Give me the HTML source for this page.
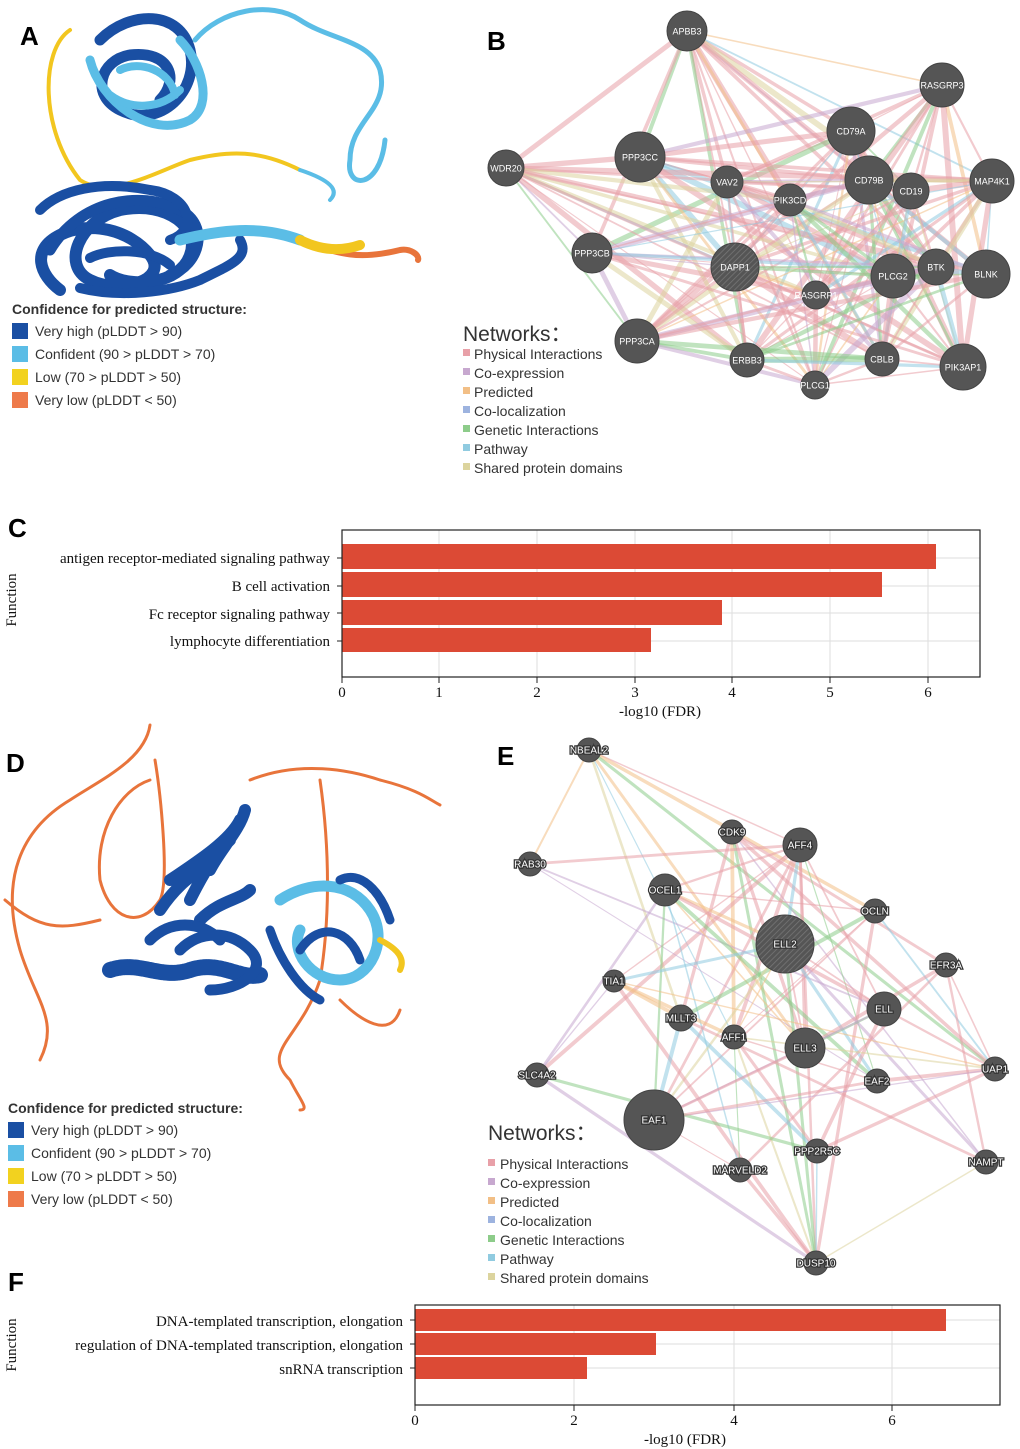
<!DOCTYPE html>
<html><head><meta charset="utf-8">
<style>
body{margin:0;background:#fff;}
svg{display:block;font-family:"Liberation Sans",Arial,sans-serif;}
.nl{fill:#fff;font-size:9px;text-anchor:middle;dominant-baseline:middle;}
.el{fill:#fff;font-size:10px;text-anchor:middle;dominant-baseline:middle;stroke:#333;stroke-width:2.5px;paint-order:stroke;}
.lg{font-size:14px;fill:#333;}
.cf{font-family:"Liberation Serif",serif;font-size:15px;fill:#111;}
</style></head><body>
<svg id="s" width="1020" height="1449" viewBox="0 0 1020 1449">
<defs>
<pattern id="h" width="4" height="4" patternUnits="userSpaceOnUse" patternTransform="rotate(45)"><rect width="4" height="4" fill="#555"/><line x1="0" y1="0" x2="0" y2="4" stroke="#777" stroke-width="1.5"/></pattern>
</defs>
<g id="edgesB"></g><g id="edgesE"></g>
<g font-weight="bold" font-size="26">
<text x="20" y="45">A</text><text x="487" y="50">B</text><text x="8" y="537">C</text>
<text x="6" y="772">D</text><text x="497" y="765">E</text><text x="8" y="1291">F</text></g>

<!-- Protein A -->
<g fill="none" stroke-linecap="round" stroke-linejoin="round">
<path d="M195 40 C220 10 270 0 300 20 C330 40 370 40 380 70 C390 110 350 120 350 160 C345 190 380 190 385 140" stroke="#5bbde6" stroke-width="5"/>
<path d="M70 30 C40 50 40 130 80 180 C110 200 160 170 190 160 C230 150 260 150 300 170" stroke="#f2c61f" stroke-width="4"/>
<path d="M300 170 C330 180 340 190 330 200" stroke="#5bbde6" stroke-width="4"/>
<path d="M100 40 C130 10 180 10 190 50 C200 90 160 130 120 110 C90 95 100 60 130 55 C170 50 180 80 160 100" stroke="#1a4fa3" stroke-width="11"/>
<path d="M90 60 C100 100 150 140 190 120 C215 105 200 60 180 40" stroke="#5bbde6" stroke-width="9"/>
<path d="M120 70 C140 60 170 70 175 95 M110 95 C130 110 160 110 180 90" stroke="#5bbde6" stroke-width="8"/>
<path d="M60 290 C40 275 30 250 60 235 C90 220 130 230 150 255 C170 280 120 295 90 280 C60 265 80 220 120 210 C170 200 200 230 190 255 C180 285 130 288 110 275" stroke="#1a4fa3" stroke-width="12"/>
<path d="M50 250 C80 200 140 190 180 210 C210 225 200 265 170 275" stroke="#1a4fa3" stroke-width="11"/>
<path d="M40 210 C60 190 100 180 150 190 C190 195 200 230 170 240" stroke="#1a4fa3" stroke-width="10"/>
<path d="M80 288 C120 298 170 292 200 280 C230 265 250 258 240 240 M90 258 C110 248 150 248 170 265" stroke="#1a4fa3" stroke-width="10"/>
<path d="M180 240 C220 230 260 220 300 240 C340 255 360 260 400 250 C410 248 420 255 418 260" stroke="#e8743b" stroke-width="6"/>
<path d="M180 240 C220 230 260 225 300 240" stroke="#5bbde6" stroke-width="11"/>
<path d="M300 240 C320 250 340 252 360 245" stroke="#f2c61f" stroke-width="10"/>
</g>
<text x="12" y="314" font-weight="bold" font-size="14" fill="#333">Confidence for predicted structure:</text>
<rect x="12" y="323" width="16" height="16" fill="#1a4fa3"/><text x="35" y="336" class="lg">Very high (pLDDT &gt; 90)</text>
<rect x="12" y="346" width="16" height="16" fill="#5bbde6"/><text x="35" y="359" class="lg">Confident (90 &gt; pLDDT &gt; 70)</text>
<rect x="12" y="369" width="16" height="16" fill="#f2d21f"/><text x="35" y="382" class="lg">Low (70 &gt; pLDDT &gt; 50)</text>
<rect x="12" y="392" width="16" height="16" fill="#ee7a4a"/><text x="35" y="405" class="lg">Very low (pLDDT &lt; 50)</text>

<text x="463" y="341" font-size="21" fill="#333">Networks：</text>
<g class="lg">
<rect x="463" y="349" width="7" height="7" fill="#e8a0a8"/><text x="474" y="359">Physical Interactions</text>
<rect x="463" y="368" width="7" height="7" fill="#c7a8cf"/><text x="474" y="378">Co-expression</text>
<rect x="463" y="387" width="7" height="7" fill="#f2bf86"/><text x="474" y="397">Predicted</text>
<rect x="463" y="406" width="7" height="7" fill="#9db3df"/><text x="474" y="416">Co-localization</text>
<rect x="463" y="425" width="7" height="7" fill="#8dcc8a"/><text x="474" y="435">Genetic Interactions</text>
<rect x="463" y="444" width="7" height="7" fill="#90cbe0"/><text x="474" y="454">Pathway</text>
<rect x="463" y="463" width="7" height="7" fill="#dcd49e"/><text x="474" y="473">Shared protein domains</text>
</g>
<g id="nodesB"></g>

<!-- Chart C -->
<g stroke="#ddd" stroke-width="1">
<line x1="439" y1="530" x2="439" y2="677"/><line x1="537" y1="530" x2="537" y2="677"/><line x1="635" y1="530" x2="635" y2="677"/><line x1="732" y1="530" x2="732" y2="677"/><line x1="830" y1="530" x2="830" y2="677"/><line x1="928" y1="530" x2="928" y2="677"/>
<line x1="342" y1="558" x2="980" y2="558"/><line x1="342" y1="586" x2="980" y2="586"/><line x1="342" y1="613" x2="980" y2="613"/><line x1="342" y1="641" x2="980" y2="641"/>
</g>
<g fill="#dc4a35">
<rect x="342" y="544" width="594" height="25"/><rect x="342" y="572" width="540" height="25"/><rect x="342" y="600" width="380" height="25"/><rect x="342" y="628" width="309" height="24"/></g>
<rect x="342" y="530" width="638" height="147" fill="none" stroke="#222" stroke-width="1.2"/>
<g class="cf" text-anchor="end">
<text x="330" y="563">antigen receptor-mediated signaling pathway</text>
<text x="330" y="591">B cell activation</text>
<text x="330" y="619">Fc receptor signaling pathway</text>
<text x="330" y="646">lymphocyte differentiation</text></g>
<g stroke="#222"><line x1="337" y1="558" x2="342" y2="558"/><line x1="337" y1="586" x2="342" y2="586"/><line x1="337" y1="613" x2="342" y2="613"/><line x1="337" y1="641" x2="342" y2="641"/>
<line x1="342" y1="677" x2="342" y2="683"/><line x1="439" y1="677" x2="439" y2="683"/><line x1="537" y1="677" x2="537" y2="683"/><line x1="635" y1="677" x2="635" y2="683"/><line x1="732" y1="677" x2="732" y2="683"/><line x1="830" y1="677" x2="830" y2="683"/><line x1="928" y1="677" x2="928" y2="683"/></g>
<g class="cf" text-anchor="middle">
<text x="342" y="697">0</text><text x="439" y="697">1</text><text x="537" y="697">2</text><text x="635" y="697">3</text><text x="732" y="697">4</text><text x="830" y="697">5</text><text x="928" y="697">6</text>
<text x="660" y="716">-log10 (FDR)</text></g>
<text class="cf" transform="translate(16,600) rotate(-90)" text-anchor="middle">Function</text>

<!-- Protein D -->
<g fill="none" stroke-linecap="round" stroke-linejoin="round">
<path d="M150 725 C145 760 100 780 70 800 C20 830 0 880 20 950 C35 1000 60 1020 40 1060" stroke="#e8743b" stroke-width="3"/>
<path d="M150 780 C120 790 95 830 100 880 C110 920 140 930 160 900 C170 880 160 790 155 760" stroke="#e8743b" stroke-width="3"/>
<path d="M100 920 C60 930 40 930 5 900" stroke="#e8743b" stroke-width="3"/>
<path d="M250 780 C300 760 350 770 380 780 C420 790 430 800 440 805" stroke="#e8743b" stroke-width="3"/>
<path d="M320 780 C330 850 330 920 320 980 C300 1040 260 1050 290 1080 C300 1100 310 1110 300 1110" stroke="#e8743b" stroke-width="3"/>
<path d="M340 1000 C360 1020 390 1040 400 1010" stroke="#e8743b" stroke-width="3"/>
<path d="M170 880 C200 860 230 840 240 820 M190 900 C210 860 220 850 230 840 M160 910 C180 880 200 870 215 860 M200 920 C220 900 240 900 250 890 M210 870 C220 850 240 830 245 810" stroke="#1a4fa3" stroke-width="12"/>
<path d="M110 970 C140 960 160 980 190 970 C220 960 240 980 260 975" stroke="#1a4fa3" stroke-width="16" stroke-dasharray="3 2"/>
<path d="M180 950 C200 930 230 930 250 950 C270 970 240 990 210 990 M150 940 C170 920 200 920 220 940" stroke="#1a4fa3" stroke-width="11"/>
<path d="M280 900 C310 880 350 880 370 910 C390 940 370 980 340 980 C310 980 290 950 300 930" stroke="#5bbde6" stroke-width="11"/>
<path d="M300 950 C320 920 350 930 360 960 M340 880 C360 870 380 890 390 920 M270 930 C280 960 300 990 320 1000" stroke="#1a4fa3" stroke-width="9"/>
<path d="M380 940 C400 950 405 960 400 970" stroke="#f2c61f" stroke-width="6"/>
</g>
<text x="8" y="1113" font-weight="bold" font-size="14" fill="#333">Confidence for predicted structure:</text>
<rect x="8" y="1122" width="16" height="16" fill="#1a4fa3"/><text x="31" y="1135" class="lg">Very high (pLDDT &gt; 90)</text>
<rect x="8" y="1145" width="16" height="16" fill="#5bbde6"/><text x="31" y="1158" class="lg">Confident (90 &gt; pLDDT &gt; 70)</text>
<rect x="8" y="1168" width="16" height="16" fill="#f2d21f"/><text x="31" y="1181" class="lg">Low (70 &gt; pLDDT &gt; 50)</text>
<rect x="8" y="1191" width="16" height="16" fill="#ee7a4a"/><text x="31" y="1204" class="lg">Very low (pLDDT &lt; 50)</text>

<text x="488" y="1140" font-size="21" fill="#333">Networks：</text>
<g class="lg">
<rect x="488" y="1159" width="7" height="7" fill="#e8a0a8"/><text x="500" y="1169">Physical Interactions</text>
<rect x="488" y="1178" width="7" height="7" fill="#c7a8cf"/><text x="500" y="1188">Co-expression</text>
<rect x="488" y="1197" width="7" height="7" fill="#f2bf86"/><text x="500" y="1207">Predicted</text>
<rect x="488" y="1216" width="7" height="7" fill="#9db3df"/><text x="500" y="1226">Co-localization</text>
<rect x="488" y="1235" width="7" height="7" fill="#8dcc8a"/><text x="500" y="1245">Genetic Interactions</text>
<rect x="488" y="1254" width="7" height="7" fill="#90cbe0"/><text x="500" y="1264">Pathway</text>
<rect x="488" y="1273" width="7" height="7" fill="#dcd49e"/><text x="500" y="1283">Shared protein domains</text>
</g>
<g id="nodesE"></g>

<!-- Chart F -->
<g stroke="#ddd"><line x1="574" y1="1305" x2="574" y2="1405"/><line x1="734" y1="1305" x2="734" y2="1405"/><line x1="892" y1="1305" x2="892" y2="1405"/>
<line x1="415" y1="1320" x2="1000" y2="1320"/><line x1="415" y1="1344" x2="1000" y2="1344"/><line x1="415" y1="1368" x2="1000" y2="1368"/></g>
<g fill="#dc4a35"><rect x="415" y="1309" width="531" height="22"/><rect x="415" y="1333" width="241" height="22"/><rect x="415" y="1357" width="172" height="22"/></g>
<rect x="415" y="1305" width="585" height="100" fill="none" stroke="#222" stroke-width="1.2"/>
<g class="cf" text-anchor="end"><text x="403" y="1326">DNA-templated transcription, elongation</text>
<text x="403" y="1350">regulation of DNA-templated transcription, elongation</text>
<text x="403" y="1374">snRNA transcription</text></g>
<g stroke="#222"><line x1="410" y1="1320" x2="415" y2="1320"/><line x1="410" y1="1344" x2="415" y2="1344"/><line x1="410" y1="1368" x2="415" y2="1368"/>
<line x1="415" y1="1405" x2="415" y2="1411"/><line x1="574" y1="1405" x2="574" y2="1411"/><line x1="734" y1="1405" x2="734" y2="1411"/><line x1="892" y1="1405" x2="892" y2="1411"/></g>
<g class="cf" text-anchor="middle"><text x="415" y="1425">0</text><text x="574" y="1425">2</text><text x="734" y="1425">4</text><text x="892" y="1425">6</text>
<text x="685" y="1444">-log10 (FDR)</text></g>
<text class="cf" transform="translate(16,1345) rotate(-90)" text-anchor="middle">Function</text>
</svg>
<script>
var NS="http://www.w3.org/2000/svg";
function el(t,a,p,txt){var e=document.createElementNS(NS,t);for(var k in a)e.setAttribute(k,a[k]);if(txt)e.textContent=txt;p.appendChild(e);return e;}
var B=[["APBB3",687,31,20],["RASGRP3",942,85,22],["CD79A",851,131,24],["PPP3CC",640,157,25],["WDR20",506,168,18],["VAV2",727,182,16],["CD79B",869,180,24],["MAP4K1",992,181,22],["CD19",911,191,18],["PIK3CD",790,200,16],["PPP3CB",592,253,20],["DAPP1",735,267,24,1],["PLCG2",893,276,22],["BTK",936,267,18],["BLNK",986,274,24],["RASGRP1",816,295,14],["PPP3CA",637,341,22],["ERBB3",747,360,17],["CBLB",882,359,17],["PIK3AP1",963,367,23],["PLCG1",815,385,14]];
var E=[["NBEAL2",589,750,12],["CDK9",732,832,12],["AFF4",800,845,17],["RAB30",530,864,12],["OCEL1",665,890,16],["OCLN",875,911,12],["ELL2",785,944,29,1],["EFR3A",946,965,12],["TIA1",614,981,11],["ELL",884,1009,17],["MLLT3",681,1018,13],["AFF1",734,1037,12],["ELL3",805,1048,20],["UAP1",995,1069,12],["SLC4A2",537,1075,12],["EAF2",877,1081,12],["EAF1",654,1120,30],["PPP2R5C",817,1151,12],["MARVELD2",740,1170,12],["NAMPT",986,1162,12],["DUSP10",816,1263,12]];
var cols=["#e8a0a8","#e8a0a8","#e8a0a8","#e8a0a8","#90cbe0","#f2bf86","#c7a8cf","#8dcc8a","#dcd49e"];
var seed=7;function r(){seed=(seed*9301+49297)%233280;return seed/233280;}
function edges(N,g,p,wmax,big){for(var i=0;i<N.length;i++)for(var j=i+1;j<N.length;j++){var pp=p;if(big&&(N[i][3]>=16&&N[j][3]>=16))pp=0.9;if(r()<pp){var c=cols[Math.floor(r()*cols.length)];el("line",{x1:N[i][1],y1:N[i][2],x2:N[j][1],y2:N[j][2],stroke:c,"stroke-width":1+r()*wmax,"stroke-opacity":0.55},g);}}}
edges(B,document.getElementById("edgesB"),0.75,5,false);
edges(E,document.getElementById("edgesE"),0.3,3,true);
function nodes(N,g,cls){N.forEach(function(n){el("circle",{cx:n[1],cy:n[2],r:n[3],fill:n[4]?"url(#h)":"#555",stroke:"#444"},g);el("text",{x:n[1],y:n[2]+1,"class":cls},g,n[0]);});}
nodes(B,document.getElementById("nodesB"),"nl");
nodes(E,document.getElementById("nodesE"),"el");
</script>
</body></html>
